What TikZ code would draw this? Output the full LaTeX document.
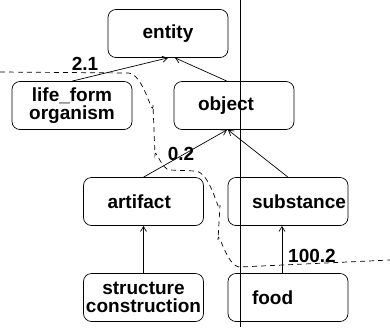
\documentclass[tikz,border=0pt]{standalone}
\usepackage{fontspec}
\setmainfont{Liberation Sans}
\usepackage{tikz}
\usetikzlibrary{arrows.meta}
\tikzset{>={Straight Barb[length=5pt, width=6pt]}}
\tikzset{
    concept/.style={draw, rounded corners=8pt, line width=0.7pt, minimum width=120pt, minimum height=48pt, inner sep=0pt, align=center},
    leftlbl/.style={align=left, text width=72pt},
    weight/.style={inner sep=0pt},
}

\begin{document}
\begin{tikzpicture}[x=1pt, y=-1pt, font=\fontsize{19}{18.5}\selectfont\bfseries, line width=0.7pt]
    \useasboundingbox(0, 0) rectangle (390, 327);
    \node[concept](entity)at(168, 33.5){entity};
    \node[concept](life)at(72, 105.5){life\_form\\organism};
    \node[concept, leftlbl](object)at(234, 105.5){object};
    \node[concept, leftlbl](artifact)at(143.5, 201.5){artifact};
    \node[concept, leftlbl](substance)at(288, 201.5){substance};
    \node[concept](structure)at(143.5, 297.5){structure\\construction};
    \node[concept, leftlbl](food)at(288, 297.5){food};
    \draw[->](life.north)--(entity.south);
    \draw[->]([xshift=-7pt]object.north)--([xshift=7pt]entity.south);
    \draw[->](artifact.north)--([xshift=-7pt]object.south);
    \draw[->](substance.north)--([xshift=-6pt]object.south);
    \draw[->](structure.north)--(artifact.south);
    \draw[->]([xshift=-6pt]food.north)--([xshift=-6pt]substance.south);
    \node[weight](w1)at(85, 64){2.1};
    \node[weight](w2)at(181, 154){0.2};
    \node[weight](w3)at(312, 256){100.2};
    % cut line and separating curve
    \draw[line width=0.8pt](240, 0)--(240, 327);
    \draw[dash pattern=on 5pt off 4pt](0, 72)--(128, 73)to[out=0, in=-90](153, 105)--(155, 155)
        to[out=90, in=180](170, 170)--(195, 171)to[out=0, in=-90](220, 205)--(218, 240)
        to[out=90, in=180](240, 267)--(390, 260);
\end{tikzpicture}
\end{document}
